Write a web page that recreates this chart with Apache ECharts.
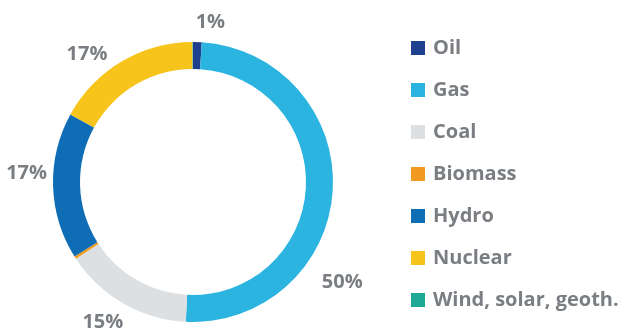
<!DOCTYPE html>
<html>
<head>
<meta charset="utf-8">
<script src="https://cdn.jsdelivr.net/npm/echarts@6/dist/echarts.min.js"></script>
<style>
  html, body { margin: 0; padding: 0; background: #ffffff; }
  #chart { width: 632px; height: 329px; }
</style>
</head>
<body>
<div id="chart"></div>
<script>
// Electricity generation mix, share by source (%)
const sources = ['Oil', 'Gas', 'Coal', 'Biomass', 'Hydro', 'Nuclear', 'Wind, solar, geoth.'];
const shares = [1, 50, 15, 0.3, 17, 17, 0.05];
const shareLabels = ['1%', '50%', '15%', '', '17%', '17%', ''];
const colors = ['#1f3f8f', '#2cb4e0', '#dde0e3', '#f29a1f', '#0f6db5', '#f6c41b', '#1ea896'];

// label nudges (pixels) relative to the default outside placement
const labelShift = [[-7, -12], [-24, 92], [9, 12], [0, 0], [7, -13], [-5, 0], [0, 0]];

const chart = echarts.init(document.getElementById('chart'), null, { renderer: 'canvas' });

const textFont = 'Open Sans';
const textColor = '#7a7e82';

chart.setOption({
  animation: false,
  color: colors,
  legend: {
    orient: 'vertical',
    left: 411,
    top: 38,
    padding: 0,
    itemWidth: 14,
    itemHeight: 14,
    itemGap: 22,
    icon: 'rect',
    selectedMode: false,
    data: sources,
    textStyle: {
      fontFamily: textFont,
      fontSize: 20,
      fontWeight: 'bold',
      color: textColor,
      lineHeight: 20,
      padding: [0, 0, 0, 3]
    }
  },
  series: [{
    type: 'pie',
    center: [193, 182],
    radius: [113, 140],
    startAngle: 90,
    clockwise: true,
    avoidLabelOverlap: false,
    silent: true,
    itemStyle: { borderWidth: 0 },
    label: {
      show: true,
      position: 'outside',
      fontFamily: textFont,
      fontSize: 20,
      fontWeight: 'bold',
      color: textColor,
      formatter: p => shareLabels[p.dataIndex]
    },
    labelLine: { show: false, length: 8, length2: 0 },
    labelLayout: p => ({ dx: labelShift[p.dataIndex][0], dy: labelShift[p.dataIndex][1] }),
    data: sources.map((name, i) => ({ name, value: shares[i] }))
  }]
});
</script>
</body>
</html>
